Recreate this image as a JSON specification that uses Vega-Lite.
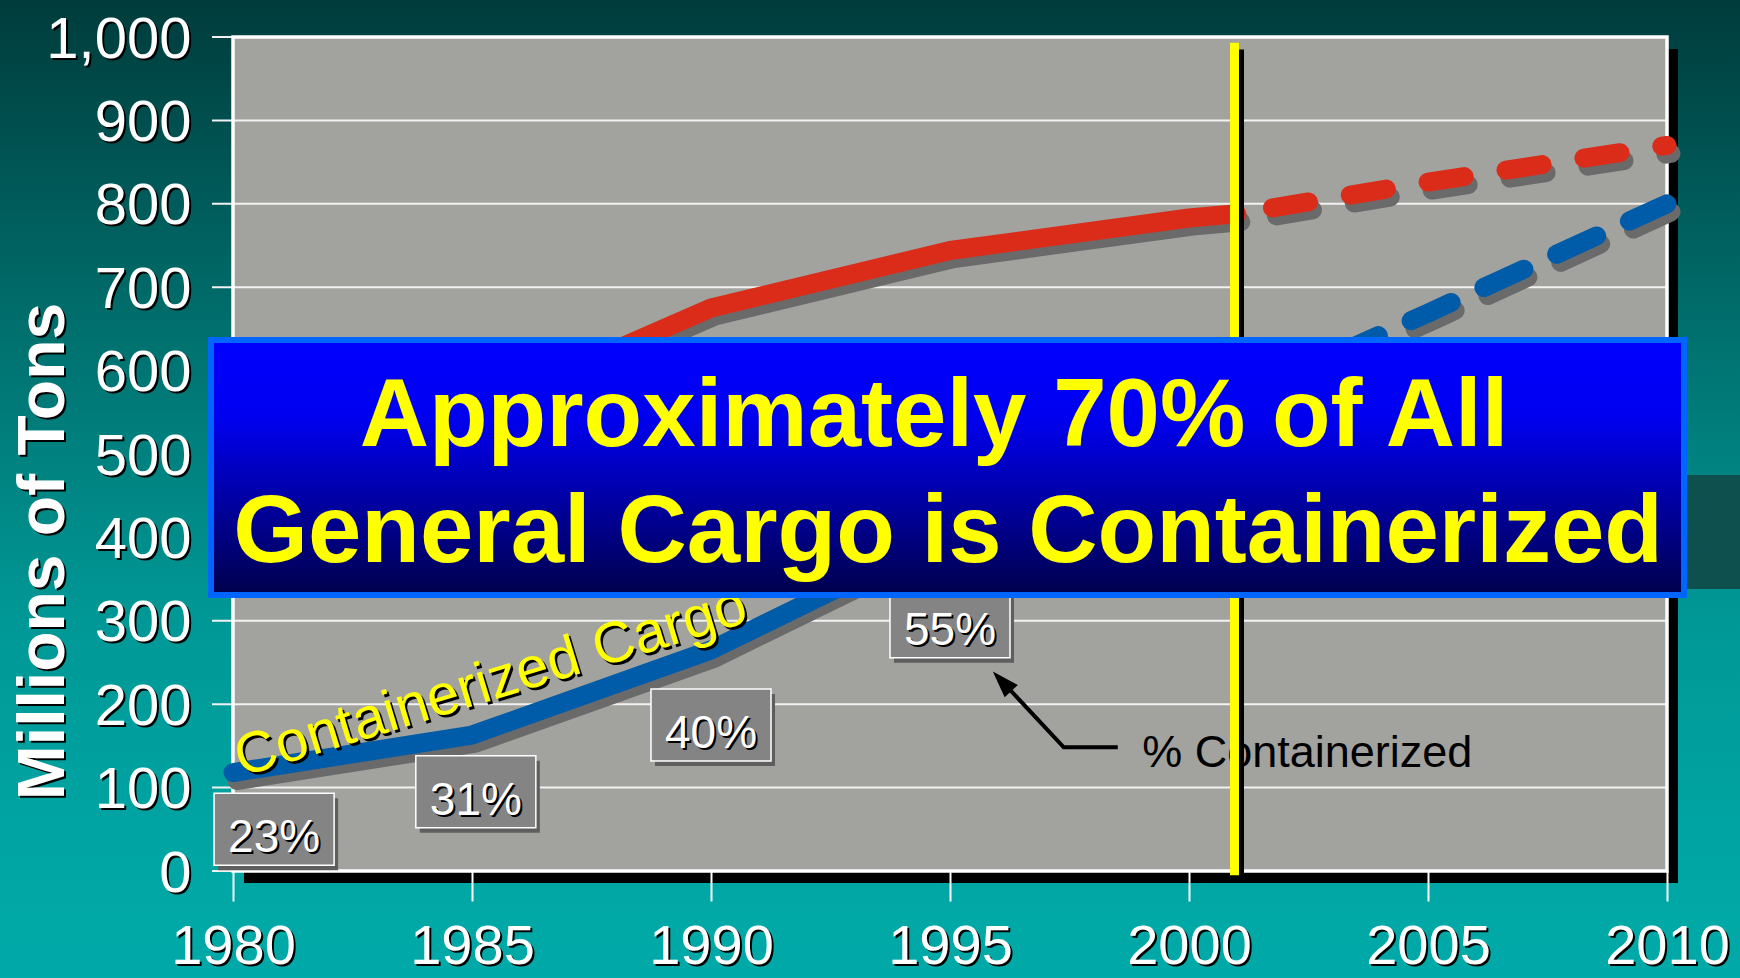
{
  "$schema": "https://vega.github.io/schema/vega-lite/v6.json",
  "width": 1434,
  "height": 834,
  "autosize": "none",
  "padding": {"left": 233, "top": 37, "right": 73, "bottom": 107},
  "background": "#00a8a6",
  "config": {"view": {"stroke": null}, "font": "Liberation Sans"},
  "data": {"values": [{}]},
  "datasets": {
    "cargo": [
      {"year": 1980, "tons": 500, "series": "General Cargo", "phase": "actual"},
      {"year": 1985, "tons": 550, "series": "General Cargo", "phase": "actual"},
      {"year": 1990, "tons": 675, "series": "General Cargo", "phase": "actual"},
      {"year": 1995, "tons": 744, "series": "General Cargo", "phase": "actual"},
      {"year": 2000, "tons": 783, "series": "General Cargo", "phase": "actual"},
      {"year": 2001, "tons": 788, "series": "General Cargo", "phase": "actual"},
      {"year": 2001, "tons": 788, "series": "General Cargo", "phase": "projected"},
      {"year": 2005, "tons": 826, "series": "General Cargo", "phase": "projected"},
      {"year": 2010, "tons": 870, "series": "General Cargo", "phase": "projected"},
      {"year": 1980, "tons": 118, "series": "Containerized Cargo", "phase": "actual"},
      {"year": 1985, "tons": 163, "series": "Containerized Cargo", "phase": "actual"},
      {"year": 1990, "tons": 265, "series": "Containerized Cargo", "phase": "actual"},
      {"year": 1995, "tons": 405, "series": "Containerized Cargo", "phase": "actual"},
      {"year": 2000, "tons": 538, "series": "Containerized Cargo", "phase": "actual"},
      {"year": 2001, "tons": 565, "series": "Containerized Cargo", "phase": "actual"},
      {"year": 2001, "tons": 565, "series": "Containerized Cargo", "phase": "projected"},
      {"year": 2005, "tons": 669, "series": "Containerized Cargo", "phase": "projected"},
      {"year": 2010, "tons": 800, "series": "Containerized Cargo", "phase": "projected"}
    ],
    "pct": [
      {"year": 1980.86, "v": 50, "label": "23%"},
      {"year": 1985.08, "v": 95, "label": "31%"},
      {"year": 1990, "v": 175, "label": "40%"},
      {"year": 1995, "v": 299, "label": "55%"}
    ],
    "grid": [
      {"v": 0}, {"v": 100}, {"v": 200}, {"v": 300}, {"v": 400}, {"v": 500},
      {"v": 600}, {"v": 700}, {"v": 800}, {"v": 900}, {"v": 1000}
    ],
    "arrow": [
      {"year": 1998.51, "v": 148.3, "o": 1},
      {"year": 1997.38, "v": 148.3, "o": 2},
      {"year": 1996.11, "v": 226.1, "o": 3}
    ]
  },
  "resolve": {
    "scale": {"x": "shared", "y": "shared"},
    "axis": {"x": "independent", "y": "independent"}
  },
  "layer": [
    {
      "mark": {
        "type": "rect",
        "fill": {
          "gradient": "linear", "x1": 0, "y1": 0, "x2": 0, "y2": 1,
          "stops": [
            {"offset": 0, "color": "#003b3b"},
            {"offset": 0.34, "color": "#00706e"},
            {"offset": 0.63, "color": "#009896"},
            {"offset": 0.86, "color": "#00a5a3"},
            {"offset": 1, "color": "#00aaa8"}
          ]
        }
      },
      "encoding": {
        "x": {"datum": 1974.8, "type": "quantitative", "scale": {"domain": [1980, 2010], "nice": false, "zero": false}, "axis": null},
        "x2": {"datum": 2011.9},
        "y": {"datum": 1050, "type": "quantitative", "scale": {"domain": [0, 1000], "nice": false, "zero": false}, "axis": null},
        "y2": {"datum": -135}
      }
    },
    {
      "mark": {"type": "rect", "fill": "#000000", "xOffset": 11, "x2Offset": 11, "yOffset": 12, "y2Offset": 12},
      "encoding": {
        "x": {"datum": 1980, "type": "quantitative", "axis": null},
        "x2": {"datum": 2010},
        "y": {"datum": 1000, "type": "quantitative", "axis": null},
        "y2": {"datum": 0}
      }
    },
    {
      "mark": {"type": "rect", "fill": "#a2a29f"},
      "encoding": {
        "x": {
          "datum": 1980, "type": "quantitative",
          "axis": {
            "orient": "bottom", "values": [1980, 1985, 1990, 1995, 2000, 2005, 2010], "format": "d",
            "domain": false, "ticks": false, "tickSize": 0, "grid": false,
            "labelColor": "#000000", "labelFont": "Liberation Sans", "labelFontSize": 56,
            "labelPadding": 50, "labelOffset": 2, "labelFlush": false, "labelOverlap": false,
            "title": null, "zindex": 1
          }
        },
        "x2": {"datum": 2010},
        "y": {
          "datum": 1000, "type": "quantitative",
          "axis": {
            "orient": "left", "values": [0, 100, 200, 300, 400, 500, 600, 700, 800, 900, 1000], "format": ",d",
            "domain": false, "ticks": false, "tickSize": 0, "grid": false,
            "labelColor": "#000000", "labelFont": "Liberation Sans", "labelFontSize": 58,
            "labelPadding": 40, "labelOffset": 5, "labelFlush": false, "labelOverlap": false,
            "title": "Millions of Tons", "titleColor": "#000000", "titleFont": "Liberation Sans",
            "titleFontWeight": "bold", "titleFontSize": 66, "titleAngle": 270,
            "titleX": -168, "titleY": 516, "titleAlign": "center", "titleBaseline": "alphabetic",
            "zindex": 1
          }
        },
        "y2": {"datum": 0}
      }
    },
    {
      "data": {"name": "grid"},
      "mark": {"type": "rule", "stroke": "#f2f2f2", "strokeWidth": 2, "xOffset": -21},
      "encoding": {
        "x": {
          "datum": 1980, "type": "quantitative",
          "axis": {
            "orient": "bottom", "values": [1980, 1985, 1990, 1995, 2000, 2005, 2010], "format": "d",
            "domain": false, "ticks": true, "tickSize": 30, "tickWidth": 2, "tickColor": "#ffffff", "grid": false,
            "labelColor": "#ffffff", "labelFont": "Liberation Sans", "labelFontSize": 56,
            "labelPadding": 18, "labelFlush": false, "labelOverlap": false,
            "title": null, "zindex": 1
          }
        },
        "x2": {"datum": 2010},
        "y": {
          "field": "v", "type": "quantitative",
          "axis": {
            "orient": "left", "values": [0, 100, 200, 300, 400, 500, 600, 700, 800, 900, 1000], "format": ",d",
            "domain": false, "ticks": false, "tickSize": 0, "grid": false,
            "labelColor": "#ffffff", "labelFont": "Liberation Sans", "labelFontSize": 58,
            "labelPadding": 42, "labelOffset": 3, "labelFlush": false, "labelOverlap": false,
            "title": "Millions of Tons", "titleColor": "#ffffff", "titleFont": "Liberation Sans",
            "titleFontWeight": "bold", "titleFontSize": 66, "titleAngle": 270,
            "titleX": -170, "titleY": 514, "titleAlign": "center", "titleBaseline": "alphabetic",
            "zindex": 1
          }
        }
      }
    },
    {
      "mark": {"type": "rect", "filled": false, "stroke": "#ffffff", "strokeWidth": 3.5},
      "encoding": {
        "x": {"datum": 1980, "type": "quantitative", "axis": null},
        "x2": {"datum": 2010},
        "y": {"datum": 1000, "type": "quantitative", "axis": null},
        "y2": {"datum": 0}
      }
    },
    {
      "mark": {"type": "text", "text": "% Containerized", "font": "Liberation Sans", "fontSize": 45, "color": "#000000", "align": "left", "baseline": "alphabetic"},
      "encoding": {
        "x": {"datum": 1999.02, "type": "quantitative", "axis": null},
        "y": {"datum": 124.7, "type": "quantitative", "axis": null}
      }
    },
    {
      "data": {"name": "arrow"},
      "mark": {"type": "line", "stroke": "#000000", "strokeWidth": 4},
      "encoding": {
        "x": {"field": "year", "type": "quantitative", "axis": null},
        "y": {"field": "v", "type": "quantitative", "axis": null},
        "order": {"field": "o"}
      }
    },
    {
      "mark": {"type": "point", "shape": "M0,-1L0.6,0.8L-0.6,0.8Z", "filled": true, "fill": "#000000", "opacity": 1, "strokeWidth": 0, "size": 900, "angle": 317},
      "encoding": {
        "x": {"datum": 1996.11, "type": "quantitative", "axis": null},
        "y": {"datum": 226.1, "type": "quantitative", "axis": null}
      }
    },
    {
      "data": {"name": "cargo"},
      "transform": [{"filter": "datum.phase == 'actual'"}],
      "mark": {"type": "line", "stroke": "#6a6a6a", "strokeWidth": 19, "strokeCap": "round", "strokeJoin": "round", "xOffset": 4, "yOffset": 8},
      "encoding": {
        "x": {"field": "year", "type": "quantitative", "axis": null},
        "y": {"field": "tons", "type": "quantitative", "axis": null},
        "detail": {"field": "series"}
      }
    },
    {
      "data": {"name": "cargo"},
      "transform": [{"filter": "datum.phase == 'projected' && datum.series == 'General Cargo'"}],
      "mark": {"type": "line", "stroke": "#6a6a6a", "strokeWidth": 19, "strokeCap": "round", "strokeDash": [36.5, 42.35], "strokeDashOffset": 42.7, "xOffset": 4, "yOffset": 8},
      "encoding": {
        "x": {"field": "year", "type": "quantitative", "axis": null},
        "y": {"field": "tons", "type": "quantitative", "axis": null}
      }
    },
    {
      "data": {"name": "cargo"},
      "transform": [{"filter": "datum.phase == 'projected' && datum.series == 'Containerized Cargo'"}],
      "mark": {"type": "line", "stroke": "#6a6a6a", "strokeWidth": 19, "strokeCap": "round", "strokeDash": [44, 36], "strokeDashOffset": 48.6, "xOffset": 4, "yOffset": 8},
      "encoding": {
        "x": {"field": "year", "type": "quantitative", "axis": null},
        "y": {"field": "tons", "type": "quantitative", "axis": null}
      }
    },
    {
      "data": {"name": "cargo"},
      "transform": [{"filter": "datum.phase == 'actual'"}],
      "mark": {"type": "line", "strokeWidth": 19, "strokeCap": "round", "strokeJoin": "round"},
      "encoding": {
        "x": {"field": "year", "type": "quantitative", "axis": null},
        "y": {"field": "tons", "type": "quantitative", "axis": null},
        "color": {"field": "series", "type": "nominal", "scale": {"domain": ["General Cargo", "Containerized Cargo"], "range": ["#db2c1a", "#005ca8"]}, "legend": null}
      }
    },
    {
      "data": {"name": "cargo"},
      "transform": [{"filter": "datum.phase == 'projected' && datum.series == 'General Cargo'"}],
      "mark": {"type": "line", "stroke": "#db2c1a", "strokeWidth": 19, "strokeCap": "round", "strokeDash": [36.5, 42.35], "strokeDashOffset": 42.7},
      "encoding": {
        "x": {"field": "year", "type": "quantitative", "axis": null},
        "y": {"field": "tons", "type": "quantitative", "axis": null}
      }
    },
    {
      "data": {"name": "cargo"},
      "transform": [{"filter": "datum.phase == 'projected' && datum.series == 'Containerized Cargo'"}],
      "mark": {"type": "line", "stroke": "#005ca8", "strokeWidth": 19, "strokeCap": "round", "strokeDash": [44, 36], "strokeDashOffset": 48.6},
      "encoding": {
        "x": {"field": "year", "type": "quantitative", "axis": null},
        "y": {"field": "tons", "type": "quantitative", "axis": null}
      }
    },
    {
      "mark": {"type": "rule", "stroke": "#000000", "strokeWidth": 5, "xOffset": 4.7},
      "encoding": {
        "x": {"datum": 2001, "type": "quantitative", "axis": null},
        "y": {"datum": 985, "type": "quantitative", "axis": null},
        "y2": {"datum": -5}
      }
    },
    {
      "mark": {"type": "rule", "stroke": "#ffff00", "strokeWidth": 9, "xOffset": -2.3},
      "encoding": {
        "x": {"datum": 2001, "type": "quantitative", "axis": null},
        "y": {"datum": 993, "type": "quantitative", "axis": null},
        "y2": {"datum": -5}
      }
    },
    {
      "data": {"name": "pct"},
      "mark": {"type": "point", "shape": "M-1.667,-1L1.667,-1L1.667,1L-1.667,1Z", "filled": true, "fill": "#5e5e5e", "opacity": 1, "strokeWidth": 0, "size": 5184, "xOffset": 4, "yOffset": 5},
      "encoding": {
        "x": {"field": "year", "type": "quantitative", "axis": null},
        "y": {"field": "v", "type": "quantitative", "axis": null}
      }
    },
    {
      "data": {"name": "pct"},
      "mark": {"type": "point", "shape": "M-1.667,-1L1.667,-1L1.667,1L-1.667,1Z", "filled": true, "fill": "#848484", "opacity": 1, "stroke": "#ffffff", "strokeWidth": 1.5, "size": 5184},
      "encoding": {
        "x": {"field": "year", "type": "quantitative", "axis": null},
        "y": {"field": "v", "type": "quantitative", "axis": null}
      }
    },
    {
      "data": {"name": "pct"},
      "mark": {"type": "text", "font": "Liberation Sans", "fontSize": 46, "color": "#000000", "align": "center", "baseline": "middle", "dx": 2, "dy": 11},
      "encoding": {
        "x": {"field": "year", "type": "quantitative", "axis": null},
        "y": {"field": "v", "type": "quantitative", "axis": null},
        "text": {"field": "label"}
      }
    },
    {
      "data": {"name": "pct"},
      "mark": {"type": "text", "font": "Liberation Sans", "fontSize": 46, "color": "#ffffff", "align": "center", "baseline": "middle", "dy": 9},
      "encoding": {
        "x": {"field": "year", "type": "quantitative", "axis": null},
        "y": {"field": "v", "type": "quantitative", "axis": null},
        "text": {"field": "label"}
      }
    },
    {
      "mark": {"type": "text", "text": "General Cargo", "font": "Liberation Sans", "fontSize": 57, "color": "#000000", "align": "center", "baseline": "alphabetic", "angle": 344, "xOffset": 2.5, "yOffset": 2.5},
      "encoding": {
        "x": {"datum": 1983.93, "type": "quantitative", "axis": null},
        "y": {"datum": 545, "type": "quantitative", "axis": null}
      }
    },
    {
      "mark": {"type": "text", "text": "General Cargo", "font": "Liberation Sans", "fontSize": 57, "color": "#ffff00", "align": "center", "baseline": "alphabetic", "angle": 344},
      "encoding": {
        "x": {"datum": 1983.93, "type": "quantitative", "axis": null},
        "y": {"datum": 545, "type": "quantitative", "axis": null}
      }
    },
    {
      "mark": {"type": "text", "text": "Containerized Cargo", "font": "Liberation Sans", "fontSize": 58, "color": "#000000", "align": "center", "baseline": "alphabetic", "angle": 343, "xOffset": 2.5, "yOffset": 2.5},
      "encoding": {
        "x": {"datum": 1985.5, "type": "quantitative", "axis": null},
        "y": {"datum": 206, "type": "quantitative", "axis": null}
      }
    },
    {
      "mark": {"type": "text", "text": "Containerized Cargo", "font": "Liberation Sans", "fontSize": 58, "color": "#ffff00", "align": "center", "baseline": "alphabetic", "angle": 343},
      "encoding": {
        "x": {"datum": 1985.5, "type": "quantitative", "axis": null},
        "y": {"datum": 206, "type": "quantitative", "axis": null}
      }
    },
    {
      "mark": {"type": "rect", "fill": "#0d504e"},
      "encoding": {
        "x": {"datum": 2010.42, "type": "quantitative", "axis": null},
        "x2": {"datum": 2011.9},
        "y": {"datum": 474.8, "type": "quantitative", "axis": null},
        "y2": {"datum": 338}
      }
    },
    {
      "mark": {
        "type": "rect",
        "stroke": "#0066ff",
        "strokeWidth": 6,
        "fill": {
          "gradient": "linear", "x1": 0, "y1": 0, "x2": 0, "y2": 1,
          "stops": [
            {"offset": 0, "color": "#0000ff"},
            {"offset": 0.3, "color": "#0000f0"},
            {"offset": 1, "color": "#00004c"}
          ]
        }
      },
      "encoding": {
        "x": {"datum": 1979.54, "type": "quantitative", "axis": null},
        "x2": {"datum": 2010.356},
        "y": {"datum": 636.7, "type": "quantitative", "axis": null},
        "y2": {"datum": 330.9}
      }
    },
    {
      "mark": {"type": "text", "text": "Approximately 70% of All", "font": "Liberation Sans", "fontWeight": "bold", "fontSize": 96, "color": "#ffff00", "align": "center", "baseline": "alphabetic"},
      "encoding": {
        "x": {"datum": 1994.665, "type": "quantitative", "axis": null},
        "y": {"datum": 509.6, "type": "quantitative", "axis": null}
      }
    },
    {
      "mark": {"type": "text", "text": "General Cargo is Containerized", "font": "Liberation Sans", "fontWeight": "bold", "fontSize": 96, "color": "#ffff00", "align": "center", "baseline": "alphabetic"},
      "encoding": {
        "x": {"datum": 1994.96, "type": "quantitative", "axis": null},
        "y": {"datum": 370.9, "type": "quantitative", "axis": null}
      }
    }
  ]
}
